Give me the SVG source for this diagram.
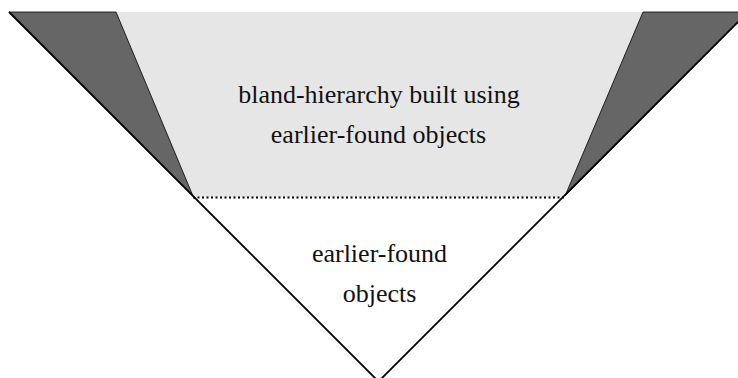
<svg xmlns="http://www.w3.org/2000/svg" width="738" height="378" viewBox="0 0 738 378">
<style>
.t{font-family:'Liberation Serif','Times New Roman',serif;font-size:26px;fill:#111;text-anchor:middle}
.dark{fill:#666;stroke:#000;stroke-width:0.8}
.light{fill:#e6e6e6;stroke:none}
.edge{fill:none;stroke:#000;stroke-width:1.8}
</style>
<rect width="738" height="378" fill="#fff"/>
<g id="upper-region">
<polygon class="light" points="116,12 643,12 565,197 193,197"/>
<text class="t" x="379" y="103">bland-hierarchy built using</text>
<text class="t" x="378.5" y="143">earlier-found objects</text>
</g>
<g id="left-wedge"><polygon class="dark" points="9,12 116,12 193,196"/></g>
<g id="right-wedge"><polygon class="dark" points="643,12 748,12 565,196"/></g>
<g id="lower-region">
<text class="t" x="379.5" y="262">earlier-found</text>
<text class="t" x="379.5" y="302">objects</text>
</g>
<g id="connectors">
<line x1="193" y1="197.5" x2="565" y2="197.5" stroke="#000" stroke-width="2" stroke-dasharray="2,2.5"/>
<polyline class="edge" points="9,12 378.5,381.5 748,12"/>
</g>
</svg>
